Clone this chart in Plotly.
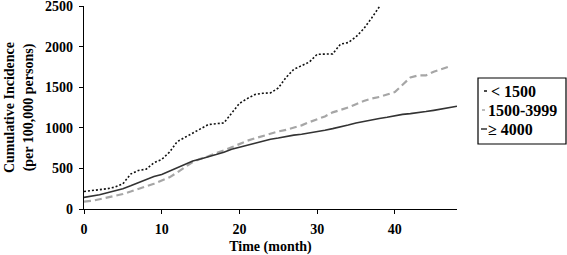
import plotly.graph_objects as go

months_lt1500 = list(range(0, 39))
inc_lt1500 = [215, 225, 235, 250, 270, 310, 430, 475, 490, 570, 610, 700, 830, 880, 940, 990,
              1040, 1050, 1060, 1180, 1300, 1360, 1410, 1425, 1430, 1490, 1620, 1720, 1770,
              1810, 1905, 1905, 1910, 2030, 2050, 2120, 2220, 2350, 2490]

months_mid = list(range(0, 48))
inc_mid = [90, 100, 120, 140, 165, 185, 215, 250, 280, 310, 350, 390, 450, 520, 580, 620, 650,
           690, 720, 760, 800, 840, 870, 900, 925, 955, 975, 1000, 1030, 1070, 1110, 1140,
           1190, 1220, 1250, 1290, 1330, 1360, 1380, 1410, 1440, 1530, 1620, 1645, 1645, 1690,
           1720, 1755]

months_ge4000 = list(range(0, 49))
inc_ge4000 = [143, 155, 175, 200, 225, 250, 285, 325, 365, 400, 425, 465, 510, 555, 590, 615,
              640, 670, 700, 735, 760, 785, 815, 840, 860, 875, 895, 910, 920, 935, 950, 970,
              990, 1010, 1035, 1060, 1080, 1100, 1115, 1130, 1150, 1165, 1175, 1185, 1200, 1215,
              1230, 1250, 1265]

series_names = ["< 1500", "1500-3999", "≥ 4000"]
x_ticks = [0, 10, 20, 30, 40]
y_ticks = [0, 500, 1000, 1500, 2000, 2500]

FONT = "Liberation Serif"
styles = [
    dict(color="#111111", width=1.6, dash="2px,2px"),
    dict(color="#a6a6a6", width=2.2, dash="7px,4px"),
    dict(color="#333333", width=1.6, dash="solid"),
]

fig = go.Figure()
for xs, ys, name, st in zip([months_lt1500, months_mid, months_ge4000],
                            [inc_lt1500, inc_mid, inc_ge4000], series_names, styles):
    fig.add_trace(go.Scatter(x=xs, y=ys, mode="lines", name=name, line=st, showlegend=False))

# plot area in pixels: x 84..457, y 6..209
L, R, T, B = 84, 457, 6, 209
def px(xp):
    return (xp - L) / (R - L)
def py(yp):
    return (B - yp) / (B - T)

# manual legend box
fig.add_shape(type="rect", xref="paper", yref="paper",
              x0=px(478), x1=px(566), y0=py(144), y1=py(78),
              line=dict(color="black", width=1.2), fillcolor="white")
row_y = [91, 110, 129]
glyph_x = [(484, 490), (482, 487), (481, 487)]
text_x = [489, 486, 486]
for name, st, yy, (g0, g1), tx in zip(series_names, styles, row_y, glyph_x, text_x):
    fig.add_shape(type="line", xref="paper", yref="paper",
                  x0=px(g0), x1=px(g1), y0=py(yy), y1=py(yy),
                  line=dict(color=st["color"], width=1.5,
                            dash="dot" if st["dash"] != "solid" else "solid"))
    fig.add_annotation(xref="paper", yref="paper", x=px(tx), y=py(yy), text=name,
                       showarrow=False, xanchor="left", yanchor="middle",
                       font=dict(family=FONT, size=16, color="black", weight="bold"))

fig.update_layout(
    width=567, height=255,
    margin=dict(l=L, r=567 - R, t=T, b=255 - B, autoexpand=False),
    paper_bgcolor="white", plot_bgcolor="white",
    font=dict(family=FONT, size=14, color="black"),
    showlegend=False,
    xaxis=dict(range=[0, 48], tickvals=x_ticks, showgrid=False, zeroline=False,
               showline=True, linecolor="black", linewidth=1.3, ticks="outside",
               ticklen=4, tickcolor="black", ticklabelstandoff=3,
               tickfont=dict(family=FONT, size=14, weight="bold"),
               title=dict(text="Time (month)", font=dict(family=FONT, size=14, weight="bold"),
                          standoff=5)),
    yaxis=dict(range=[0, 2500], tickvals=y_ticks, showgrid=False,
               zeroline=False, showline=True, linecolor="black", linewidth=1.3,
               ticks="outside", ticklen=4, tickcolor="black", ticklabeloverflow="allow",
               ticklabelstandoff=3,
               tickfont=dict(family=FONT, size=14, weight="bold"),
               title=dict(text="Cumulative Incidence<br>(per 100,000 persons)",
                          font=dict(family=FONT, size=14, weight="bold"), standoff=8)),
)

fig.write_html("out.html", config={"displayModeBar": False},
               post_script="document.body.style.margin='0';document.body.style.padding='0';")
